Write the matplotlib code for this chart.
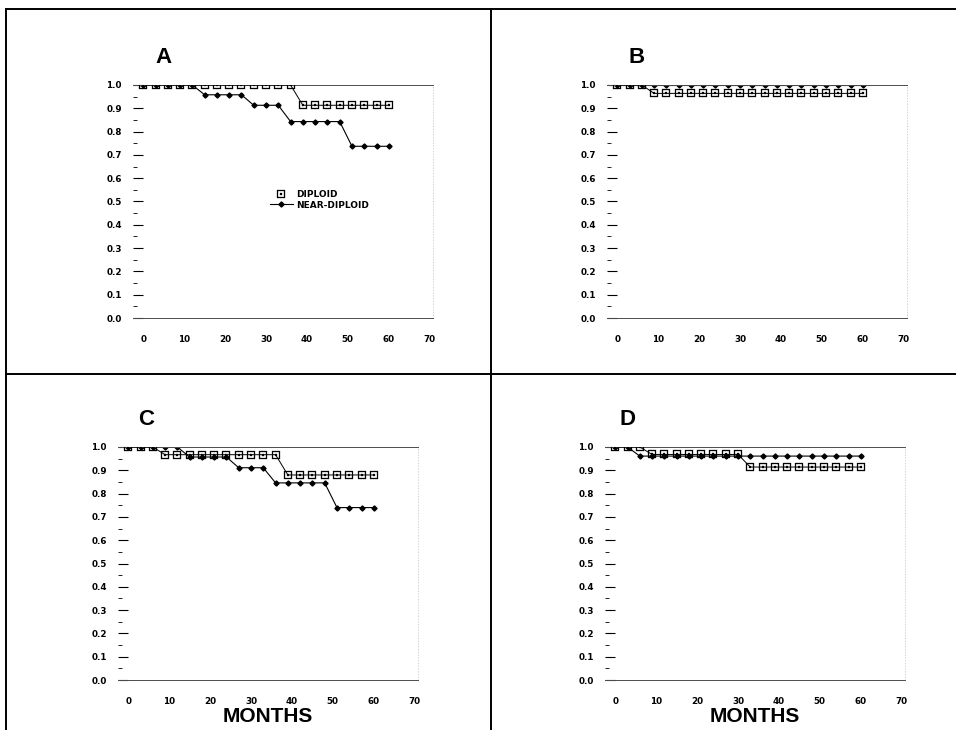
import matplotlib
matplotlib.use('Agg')
import matplotlib.pyplot as plt
from matplotlib.lines import Line2D
from matplotlib.ticker import MultipleLocator, FormatStrFormatter

plt.rcParams['font.family'] = ['Liberation Sans', 'DejaVu Sans']

months = [0, 3, 6, 9, 12, 15, 18, 21, 24, 27, 30, 33, 36, 39, 42, 45, 48, 51, 54, 57, 60]

a_diploid = [1.0, 1.0, 1.0, 1.0, 1.0, 1.0, 1.0, 1.0, 1.0, 1.0, 1.0, 1.0, 1.0,
             0.913, 0.913, 0.913, 0.913, 0.913, 0.913, 0.913, 0.913]
a_near = [1.0, 1.0, 1.0, 1.0, 1.0, 0.958, 0.958, 0.958, 0.958, 0.913, 0.913, 0.913,
          0.843, 0.843, 0.843, 0.843, 0.843, 0.737, 0.737, 0.737, 0.737]

b_diploid = [1.0, 1.0, 1.0, 0.964, 0.964, 0.964, 0.964, 0.964, 0.964, 0.964, 0.964,
             0.964, 0.964, 0.964, 0.964, 0.964, 0.964, 0.964, 0.964, 0.964, 0.964]
b_near = [1.0, 1.0, 1.0, 1.0, 1.0, 1.0, 1.0, 1.0, 1.0, 1.0, 1.0,
          1.0, 1.0, 1.0, 1.0, 1.0, 1.0, 1.0, 1.0, 1.0, 1.0]

c_diploid = [1.0, 1.0, 1.0, 0.967, 0.967, 0.967, 0.967, 0.967, 0.967, 0.967, 0.967,
             0.967, 0.967, 0.880, 0.880, 0.880, 0.880, 0.880, 0.880, 0.880, 0.880]
c_near = [1.0, 1.0, 1.0, 1.0, 1.0, 0.957, 0.957, 0.957, 0.957, 0.911, 0.911, 0.911,
          0.846, 0.846, 0.846, 0.846, 0.846, 0.740, 0.740, 0.740, 0.740]

d_diploid = [1.0, 1.0, 1.0, 0.968, 0.968, 0.968, 0.968, 0.968, 0.968, 0.968, 0.968,
             0.914, 0.914, 0.914, 0.914, 0.914, 0.914, 0.914, 0.914, 0.914, 0.914]
d_near = [1.0, 1.0, 0.961, 0.961, 0.961, 0.961, 0.961, 0.961, 0.961, 0.961, 0.961,
          0.961, 0.961, 0.961, 0.961, 0.961, 0.961, 0.961, 0.961, 0.961, 0.961]

panels = [
    ('A', a_diploid, a_near, [133, 85], 0.10),
    ('B', b_diploid, b_near, [607, 85], 0.10),
    ('C', c_diploid, c_near, [118, 447], 0.095),
    ('D', d_diploid, d_near, [605, 447], 0.075),
]

W, H = 956, 730
fig = plt.figure(figsize=(9.56, 7.3), dpi=100)

# outer frame and dividers
for xs, ys in [([6, 956], [9, 9]), ([6, 6], [9, 730]), ([6, 956], [374, 374]), ([491, 491], [9, 730])]:
    fig.add_artist(Line2D([x / W for x in xs], [1 - y / H for y in ys],
                          color='black', lw=1.4, transform=fig.transFigure))

dip_marker = '$\\boxdot$'
tick_font = {'family': 'DejaVu Sans', 'weight': 'bold', 'size': 6.3}

for letter, dip, near, (px, py), lx in panels:
    ax = fig.add_axes([px / W, 1 - (py + 233) / H, 300 / W, 233 / H])
    ax.plot(months, dip, color='black', lw=0.7, marker=dip_marker, ms=5.2,
            mew=0.2, zorder=3)
    ax.plot(months, near, color='black', lw=0.8, marker='D', ms=2.6, zorder=2)

    ax.set_xlim(-2.5, 70.8)
    ax.set_ylim(0, 1.0)
    ax.set_xticks([0, 10, 20, 30, 40, 50, 60, 70])
    ax.yaxis.set_major_locator(MultipleLocator(0.1))
    ax.yaxis.set_minor_locator(MultipleLocator(0.05))
    ax.yaxis.set_major_formatter(FormatStrFormatter('%.1f'))
    ax.tick_params(axis='x', length=0, pad=12)
    ax.tick_params(axis='y', which='major', direction='in', length=7, width=0.8, pad=8)
    ax.tick_params(axis='y', which='minor', direction='in', length=3, width=0.6)
    for lab in ax.get_xticklabels() + ax.get_yticklabels():
        lab.set_fontproperties(tick_font)

    ax.spines['left'].set_visible(False)
    ax.spines['top'].set_color('0.3')
    ax.spines['top'].set_linewidth(0.7)
    ax.spines['bottom'].set_color('0.3')
    ax.spines['bottom'].set_linewidth(0.7)
    ax.spines['right'].set_color('0.75')
    ax.spines['right'].set_linewidth(0.5)
    ax.spines['right'].set_linestyle((0, (1, 3)))

    ax.text(lx, 1.12, letter, transform=ax.transAxes, ha='center', va='center',
            fontsize=16, fontweight='bold')

    if letter in ('C', 'D'):
        ax.set_xlabel('MONTHS', fontsize=15, fontweight='bold', labelpad=1)

    if letter == 'A':
        handles = [
            Line2D([], [], color='black', lw=0, marker=dip_marker, ms=5.2, mew=0.2),
            Line2D([], [], color='black', lw=0.8, marker='D', ms=2.6),
        ]
        ax.legend(handles, ['DIPLOID', 'NEAR-DIPLOID'], loc='upper left',
                  bbox_to_anchor=(0.44, 0.57), frameon=False,
                  handlelength=2.6, handletextpad=0.4, labelspacing=0.2,
                  borderpad=0, prop={'family': 'DejaVu Sans', 'weight': 'bold', 'size': 6.5})

fig.savefig('out.png', dpi=100)
